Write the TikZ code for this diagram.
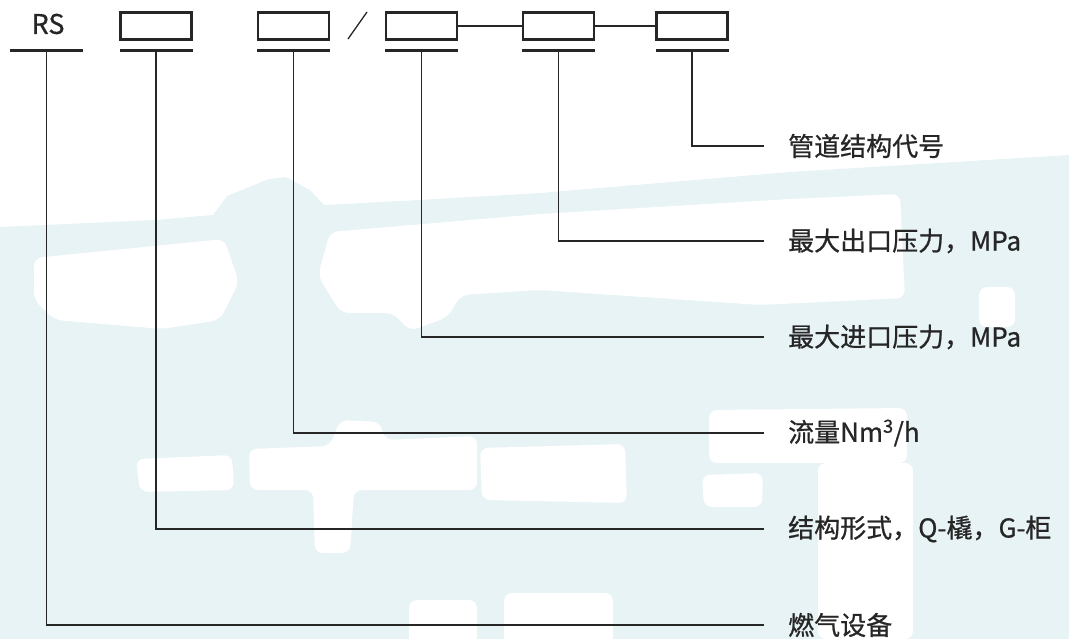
\documentclass[tikz,border=0pt]{standalone}
\usepackage{fontspec}
\setmainfont{Noto Sans CJK SC}
\newfontfamily\heavyfont[FakeBold=0.8]{Noto Sans CJK SC}
\definecolor{ink}{RGB}{38,38,38}
\definecolor{wm}{RGB}{232,243,246}
\tikzset{
  codebox/.style={draw=ink, line width=2.6pt, minimum width=71pt, minimum height=27pt, inner sep=0pt},
  bar/.style={ink, line width=3pt},
  lead/.style={ink, line width=1.3pt},
  lbl/.style={anchor=west, inner sep=0pt, text=ink, font=\heavyfont\fontsize{26}{30}\selectfont},
  blot/.style={fill=white, rounded corners=8pt}
}
\begin{document}
\begin{tikzpicture}[x=1pt, y=-1pt]

    \useasboundingbox (0,0) rectangle (1069,639);

    % faint background print
    \fill[wm] (0,227) -- (155,220) -- (213,215) -- (227,196) -- (269,179) -- (286,177) -- (310,190)
        -- (324,205) -- (420,200) -- (540,193) -- (790,172) -- (1069,155) -- (1069,639) -- (0,639) -- cycle;
    \fill[blot] (34,258) -- (224,239) -- (239,282) -- (220,320) -- (162,329) -- (55,320) -- (34,300) -- cycle;
    \fill[blot] (330,232) -- (540,214) -- (790,199) -- (900,194) -- (905,298) -- (760,305) -- (540,290)
        -- (461,295) -- (448,317) -- (410,331) -- (393,313) -- (341,313) -- (318,276) -- cycle;
    \fill[blot] (136,459) -- (232,455) -- (234,490) -- (140,492) -- cycle;
    \fill[blot] (249,449) -- (330,446) -- (340,420) -- (380,422) -- (385,440) -- (477,436) -- (477,490)
        -- (354,490) -- (350,553) -- (315,553) -- (313,490) -- (250,490) -- cycle;
    \fill[blot] (480,448) -- (625,444) -- (627,503) -- (482,500) -- cycle;
    \fill[blot] (709,410) -- (907,408) -- (907,463) -- (709,463) -- cycle;
    \fill[blot] (818,463) -- (913,463) -- (913,639) -- (818,639) -- cycle;
    \fill[blot] (702,475) -- (763,473) -- (762,507) -- (704,507) -- cycle;
    \fill[blot] (409,600) -- (477,600) -- (477,645) -- (409,645) -- cycle;
    \fill[blot] (504,593) -- (613,593) -- (613,645) -- (504,645) -- cycle;
    \fill[blot] (979,287) -- (1015,287) -- (1015,327) -- (979,327) -- cycle;

    % code boxes
    \node[lbl, anchor=center, font=\heavyfont\fontsize{27}{30}\selectfont] (rs) at (48,24) {RS};
    \node[codebox] (b1) at (156,26) {};
    \node[codebox] (b2) at (293.5,26) {};
    \node[codebox] (b3) at (421.5,26) {};
    \node[codebox] (b4) at (558.5,26) {};
    \node[codebox] (b5) at (692,26) {};

    \draw[lead] (348,39) -- (367,12);
    \draw[lead] (b3.east) -- (b4.west);
    \draw[lead] (b4.east) -- (b5.west);

    \coordinate (u0) at (46.5,51);
    \foreach \b in {1,...,5}
        \coordinate (u\b) at ([yshift=-25pt]b\b.center);
    \foreach \u in {0,...,5}
        \draw[bar] ([xshift=-36.5pt]u\u) -- ([xshift=36.5pt]u\u);

    % meanings
    \node[lbl] (l5) at (788,146) {管道结构代号};
    \node[lbl] (l4) at (788,241) {最大出口压力，MPa};
    \node[lbl] (l3) at (788,337) {最大进口压力，MPa};
    \node[lbl] (l2) at (788,433) {流量Nm\textsuperscript{3}/h};
    \node[lbl] (l1) at (788,529) {结构形式，Q-橇，G-柜};
    \node[lbl] (l0) at (788,625) {燃气设备};

    \foreach \u in {0,...,5}
        \draw[lead] (u\u) |- ([xshift=-24pt]l\u.west);

\end{tikzpicture}
\end{document}
